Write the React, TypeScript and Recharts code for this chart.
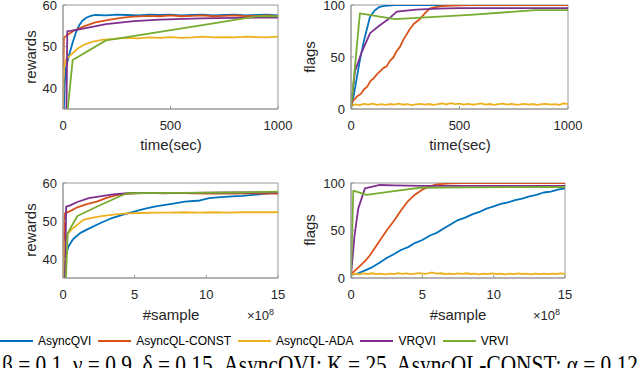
import React from "react";
import { Line, LineChart, ReferenceArea, XAxis, YAxis } from "recharts";

const SANS = "'Liberation Sans', Arial, Helvetica, sans-serif";
const SERIF = "'Liberation Serif', 'Times New Roman', serif";
const AXIS = "#999999";
const TEXT = "#262626";

const seriesNames = ["AsyncQVI", "AsyncQL-CONST", "AsyncQL-ADA", "VRQVI", "VRVI"];
const seriesColors = ["#0072BD", "#D95319", "#EDB120", "#7E2F8E", "#77AC30"];

const timeTicks = [0, 500, 1000];
const sampleTicks = [0, 5, 10, 15];
const rewardTicks = [40, 50, 60];
const flagTicks = [0, 50, 100];

// rewards vs time(sec)
const timeRewardQVI = [[4, 35], [8, 41], [13, 44.5], [20, 46.3], [30, 48.3], [45, 51], [60, 53.4], [75, 55.1], [90, 56.2], [110, 57], [130, 57.4], [150, 57.6], [200, 57.5], [250, 57.7], [300, 57.6], [350, 57.5], [400, 57.7], [450, 57.6], [500, 57.7], [550, 57.5], [600, 57.6], [650, 57.7], [700, 57.5], [750, 57.6], [800, 57.7], [850, 57.5], [900, 57.6], [950, 57.7], [1000, 57.5]];
const timeRewardCONST = [[0, 35], [2, 44], [4, 52.1], [20, 52.8], [50, 53.8], [94, 54.8], [150, 55.8], [219, 56.5], [270, 56.9], [326, 57.2], [400, 57.4], [450, 57.3], [500, 57.5], [550, 57.3], [600, 57.4], [650, 57.5], [700, 57.3], [750, 57.4], [800, 57.5], [850, 57.3], [900, 57.4], [950, 57.5], [1000, 57.3]];
const timeRewardADA = [[0, 35], [2, 42], [5, 45], [15, 47], [40, 48.2], [70, 49.6], [100, 50.5], [140, 51.2], [180, 51.6], [250, 51.9], [300, 52.1], [350, 52], [400, 52.2], [450, 52.1], [500, 52.3], [550, 52.1], [600, 52.2], [650, 52.4], [700, 52.2], [750, 52.3], [800, 52.2], [850, 52.4], [900, 52.3], [950, 52.2], [1000, 52.4]];
const timeRewardVRQVI = [[16, 35], [20, 53.7], [35, 53.8], [100, 54.4], [200, 55.4], [330, 56.1], [450, 56.5], [640, 56.8], [800, 56.9], [1000, 57]];
const timeRewardVRVI = [[22, 35], [45, 46.8], [200, 51.5], [480, 53.8], [700, 55.6], [900, 57.3], [1000, 57.3]];

// flags vs time(sec)
const timeFlagQVI = [[0, 0], [10, 10], [20, 22], [41, 47], [60, 66], [88, 89], [110, 95], [130, 98], [157, 99.3], [200, 100], [300, 100], [1000, 100]];
const timeFlagCONST = [[0, 3], [8, 8], [20, 10], [30, 12.5], [45, 14.5], [60, 19], [75, 21.5], [90, 27], [105, 29.5], [120, 33.5], [135, 36.5], [150, 39.5], [164, 41], [180, 46.5], [195, 49.5], [210, 55.5], [225, 59.5], [240, 66], [257, 72], [270, 76.5], [290, 82], [318, 86.5], [340, 92], [364, 96.8], [390, 98], [420, 99], [470, 99.5], [550, 99.8], [1000, 99.8]];
const timeFlagADA = [[0, 3], [20, 4.5], [40, 3.8], [60, 4.9], [80, 4.2], [100, 5.1], [120, 4], [140, 4.6], [160, 3.9], [180, 4.8], [200, 4.3], [220, 5.2], [240, 4.1], [260, 4.7], [280, 3.8], [300, 4.5], [320, 5], [340, 4.2], [360, 4.8], [380, 4], [400, 4.6], [420, 5.3], [440, 4.4], [460, 5.6], [480, 4.7], [500, 5.2], [520, 4.3], [540, 4.9], [560, 4.1], [580, 4.7], [600, 5.4], [620, 4.2], [640, 4.8], [660, 4], [680, 4.6], [700, 5.1], [720, 4.3], [740, 4.9], [760, 4.1], [780, 4.5], [800, 5], [820, 4.2], [840, 4.8], [860, 3.9], [880, 4.6], [900, 5], [920, 4.3], [940, 4.7], [960, 4], [980, 5.5], [1000, 4.6]];
const timeFlagVRQVI = [[0, 2], [18, 36], [50, 55], [88, 73], [130, 80], [170, 86], [211, 93.6], [300, 95.5], [400, 96.5], [500, 97], [1000, 97]];
const timeFlagVRVI = [[0, 0], [41, 92], [203, 86.5], [548, 90.5], [850, 95], [1000, 95]];

// rewards vs #sample (x10^8)
const sampleRewardQVI = [[0.05, 35], [0.2, 41], [0.37, 43.2], [0.7, 45.2], [1.19, 46.8], [1.8, 48], [2.58, 49.4], [3.3, 50.6], [4.2, 51.7], [4.9, 52.4], [5.6, 53.1], [6.3, 53.7], [7, 54.2], [7.7, 54.6], [8.5, 55.1], [9.56, 55.4], [10.2, 56], [11, 56.3], [11.8, 56.5], [12.5, 56.6], [13.05, 56.8], [13.7, 57], [14.3, 57.3], [15, 57.5]];
const sampleRewardCONST = [[0.02, 35], [0.08, 45], [0.12, 52], [0.26, 52.2], [0.6, 52.8], [1, 53.6], [1.6, 54.4], [2.35, 55.1], [3, 56], [3.6, 56.7], [4.2, 57.1], [5, 57.3], [6, 57.4], [7, 57.3], [8, 57.4], [9, 57.3], [10, 57.2], [11, 57.3], [12, 57.2], [13, 57.3], [14, 57.2], [15, 57.2]];
const sampleRewardADA = [[0.02, 35], [0.1, 44], [0.3, 46.5], [0.6, 47.8], [1, 49], [1.42, 50.3], [2, 50.8], [2.58, 51.2], [3.5, 51.7], [4.5, 52], [5.5, 52.1], [6.5, 52.2], [7.5, 52.2], [8.5, 52.3], [9.5, 52.2], [10.5, 52.3], [11.5, 52.2], [12.5, 52.3], [13.5, 52.3], [15, 52.3]];
const sampleRewardVRQVI = [[0.15, 35], [0.22, 53.8], [0.5, 54.1], [1, 55], [1.8, 56], [2.58, 56.5], [3.5, 57], [4.5, 57.3], [6, 57.4], [9, 57.4], [12, 57.5], [15, 57.5]];
const sampleRewardVRVI = [[0.2, 35], [0.33, 46.8], [1, 51.3], [2.5, 54], [4.2, 56.9], [4.5, 57.3], [8, 57.4], [12, 57.5], [15, 57.7]];

// flags vs #sample (x10^8)
const sampleFlagQVI = [[0, 3], [0.5, 5], [1, 8], [1.5, 11.5], [2, 16], [2.5, 21], [3, 25], [3.5, 29.5], [4, 32.5], [4.5, 37], [5, 40], [5.5, 44.5], [6, 47.5], [6.5, 52], [7, 56.5], [7.5, 61], [8, 63.5], [8.5, 67], [9, 69.5], [9.5, 73], [10, 75.5], [10.5, 78], [11, 79.5], [11.5, 82], [12, 83.5], [12.5, 86], [13, 87.5], [13.5, 90], [14, 91], [14.5, 93], [15, 94.5]];
const sampleFlagCONST = [[0, 4], [0.5, 11], [1, 18], [1.33, 24], [2, 39], [2.5, 50], [3, 60], [3.5, 71], [4, 81], [4.5, 88], [5, 93], [5.5, 96.5], [6, 98.5], [7, 99.5], [8, 100], [15, 100]];
const sampleFlagADA = [[0, 3], [0.3, 4.6], [0.6, 3.9], [0.9, 4.8], [1.2, 4.2], [1.5, 5], [1.8, 4.1], [2.1, 4.7], [2.4, 3.9], [2.7, 4.6], [3, 4.2], [3.3, 5.1], [3.6, 4.3], [3.9, 4.8], [4.2, 4], [4.5, 4.6], [4.8, 5.2], [5.1, 4.3], [5.4, 4.9], [5.7, 5.8], [6, 4.5], [6.3, 5], [6.6, 4.2], [6.9, 4.7], [7.2, 4.1], [7.5, 4.8], [7.8, 4.3], [8.1, 5], [8.4, 4.2], [8.7, 4.6], [9, 3.9], [9.3, 4.7], [9.6, 4.1], [9.9, 4.8], [10.2, 4.2], [10.5, 4.6], [10.8, 3.9], [11.1, 4.5], [11.4, 4.1], [11.7, 4.8], [12, 4.2], [12.3, 4.6], [12.6, 3.9], [12.9, 4.5], [13.2, 4.1], [13.5, 4.7], [13.8, 4], [14.1, 4.6], [14.4, 4.2], [14.7, 4.8], [15, 4.3]];
const sampleFlagVRQVI = [[0, 3], [0.25, 45], [0.51, 73.3], [0.98, 94.4], [2.03, 97.9], [3, 97.5], [5, 97], [8, 97], [15, 97]];
const sampleFlagVRVI = [[0, 2], [0.16, 91.9], [1.1, 87.4], [3, 91.5], [4.84, 95], [8, 95.5], [15, 95.8]];

const toPts = (pairs: number[][]) => pairs.map(([x, y]) => ({ x, y }));

type PanelProps = {
  plotLeft: number;
  plotTop: number;
  plotW: number;
  plotH: number;
  xDomain: [number, number];
  xTicks: number[];
  yDomain: [number, number];
  yTicks: number[];
  lines: number[][][];
};

const tickStyle = { fill: TEXT, fontSize: 13, fontFamily: SANS };

function Panel({ plotLeft, plotTop, plotW, plotH, xDomain, xTicks, yDomain, yTicks, lines }: PanelProps) {
  const yW = 45;
  const xH = 32;
  const mTop = 10;
  const mRight = 20;
  return (
    <div style={{ position: "absolute", left: plotLeft - yW, top: plotTop - mTop }}>
      <LineChart
        width={yW + plotW + mRight}
        height={mTop + plotH + xH}
        margin={{ top: mTop, right: mRight, bottom: 0, left: 0 }}
      >
        <XAxis
          type="number"
          dataKey="x"
          domain={xDomain}
          ticks={xTicks}
          interval={0}
          allowDataOverflow
          height={xH}
          stroke={AXIS}
          tickSize={-3}
          tickMargin={15}
          tick={tickStyle}
        />
        <YAxis
          type="number"
          domain={yDomain}
          ticks={yTicks}
          interval={0}
          allowDataOverflow
          width={yW}
          stroke={AXIS}
          tickSize={-3}
          tickMargin={9}
          tick={tickStyle}
        />
        <ReferenceArea
          x1={xDomain[0]}
          x2={xDomain[1]}
          y1={yDomain[0]}
          y2={yDomain[1]}
          fill="none"
          stroke={AXIS}
          strokeWidth={1}
          ifOverflow="visible"
        />
        {lines.map((pts, i) => (
          <Line
            key={seriesNames[i]}
            name={seriesNames[i]}
            data={toPts(pts)}
            dataKey="y"
            type="linear"
            stroke={seriesColors[i]}
            strokeWidth={1.8}
            strokeLinejoin="round"
            dot={false}
            activeDot={false}
            isAnimationActive={false}
          />
        ))}
      </LineChart>
    </div>
  );
}

function Legend() {
  return (
    <div
      style={{
        position: "absolute",
        left: 0,
        top: 334,
        display: "flex",
        alignItems: "center",
        fontFamily: SANS,
        fontSize: 12,
        color: "#000",
        whiteSpace: "nowrap",
      }}
    >
      {seriesNames.map((name, i) => (
        <div key={name} style={{ display: "flex", alignItems: "center", marginRight: 7 }}>
          <svg width={33} height={4} style={{ marginRight: 5 }}>
            <line x1={0} y1={2} x2={33} y2={2} stroke={seriesColors[i]} strokeWidth={1.8} />
          </svg>
          <span>{name}</span>
        </div>
      ))}
    </div>
  );
}

export default function App() {
  return (
    <div
      style={{
        position: "absolute",
        left: 0,
        top: 0,
        width: 640,
        height: 368,
        overflow: "hidden",
        background: "#fff",
      }}
    >
      <Panel
        plotLeft={63}
        plotTop={5}
        plotW={215}
        plotH={104}
        xDomain={[0, 1000]}
        xTicks={timeTicks}
        yDomain={[35, 60]}
        yTicks={rewardTicks}
        lines={[timeRewardQVI, timeRewardCONST, timeRewardADA, timeRewardVRQVI, timeRewardVRVI]}
      />
      <Panel
        plotLeft={351}
        plotTop={5}
        plotW={217}
        plotH={104}
        xDomain={[0, 1000]}
        xTicks={timeTicks}
        yDomain={[0, 100]}
        yTicks={flagTicks}
        lines={[timeFlagQVI, timeFlagCONST, timeFlagADA, timeFlagVRQVI, timeFlagVRVI]}
      />
      <Panel
        plotLeft={63}
        plotTop={183}
        plotW={215}
        plotH={95}
        xDomain={[0, 15]}
        xTicks={sampleTicks}
        yDomain={[35, 60]}
        yTicks={rewardTicks}
        lines={[sampleRewardQVI, sampleRewardCONST, sampleRewardADA, sampleRewardVRQVI, sampleRewardVRVI]}
      />
      <Panel
        plotLeft={351}
        plotTop={183}
        plotW={214}
        plotH={95}
        xDomain={[0, 15]}
        xTicks={sampleTicks}
        yDomain={[0, 100]}
        yTicks={flagTicks}
        lines={[sampleFlagQVI, sampleFlagCONST, sampleFlagADA, sampleFlagVRQVI, sampleFlagVRVI]}
      />
      <svg
        width={640}
        height={368}
        style={{ position: "absolute", left: 0, top: 0, pointerEvents: "none" }}
        fontFamily={SANS}
        fill={TEXT}
      >
        <text x={36} y={57} fontSize={15} textAnchor="middle" transform="rotate(-90 36 57)">rewards</text>
        <text x={315} y={57} fontSize={15} textAnchor="middle" transform="rotate(-90 315 57)">flags</text>
        <text x={36} y={230} fontSize={15} textAnchor="middle" transform="rotate(-90 36 230)">rewards</text>
        <text x={315} y={230} fontSize={15} textAnchor="middle" transform="rotate(-90 315 230)">flags</text>
        <text x={171} y={150} fontSize={15} textAnchor="middle">time(sec)</text>
        <text x={460} y={150} fontSize={15} textAnchor="middle">time(sec)</text>
        <text x={171} y={320} fontSize={15} textAnchor="middle">#sample</text>
        <text x={458} y={320} fontSize={15} textAnchor="middle">#sample</text>
        <text x={247} y={320} fontSize={13}>
          ×10<tspan dy={-5} fontSize={9}>8</tspan>
        </text>
        <text x={533} y={320} fontSize={13}>
          ×10<tspan dy={-5} fontSize={9}>8</tspan>
        </text>
        <text
          x={2}
          y={373}
          fontSize={26}
          fontFamily={SERIF}
          fill="#000"
          textLength={636}
          lengthAdjust="spacingAndGlyphs"
        >
          β = 0.1, γ = 0.9, δ = 0.15, AsyncQVI: K = 25, AsyncQL-CONST: α = 0.12
        </text>
      </svg>
      <Legend />
    </div>
  );
}
